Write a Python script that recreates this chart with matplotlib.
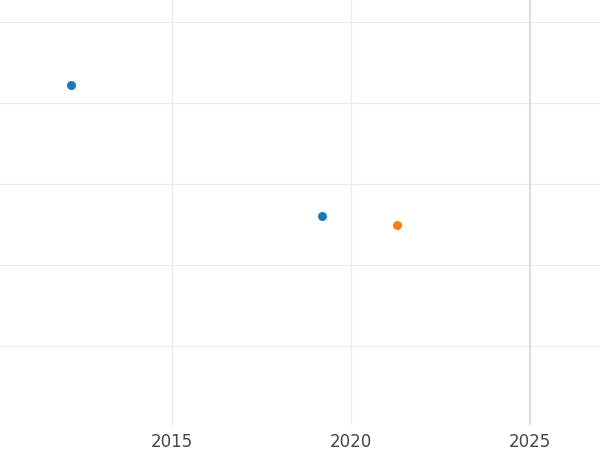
import matplotlib
matplotlib.use('Agg')
import matplotlib.pyplot as plt
import numpy as np

# values
years_a = [2012.18, 2019.19]
vals_a = [4.22, 2.60]
years_b = [2021.28]
vals_b = [2.49]
now_year = 2025

fig = plt.figure(figsize=(6, 4.5), dpi=100)
ax = fig.add_axes([0, 25 / 450, 1, 425 / 450])
ax.scatter(years_a, vals_a, color='#1f77b4', s=30, zorder=3)
ax.scatter(years_b, vals_b, color='#ff7f0e', s=30, zorder=3)
ax.axvline(now_year, color='#dddddd', linewidth=1.5, zorder=2)

ax.set_xlim(2010.2, 2026.96)
ax.set_ylim(0.025, 5.27)
ax.set_xticks([2015, 2020, 2025])
ax.set_yticks([1, 2, 3, 4, 5])
ax.set_yticklabels([])
ax.grid(color='#ebebeb', linewidth=0.8)
ax.set_axisbelow(True)
ax.tick_params(length=0, labelsize=12, labelcolor='#444444', pad=6)
for s in ax.spines.values():
    s.set_visible(False)

fig.savefig('out.png')
